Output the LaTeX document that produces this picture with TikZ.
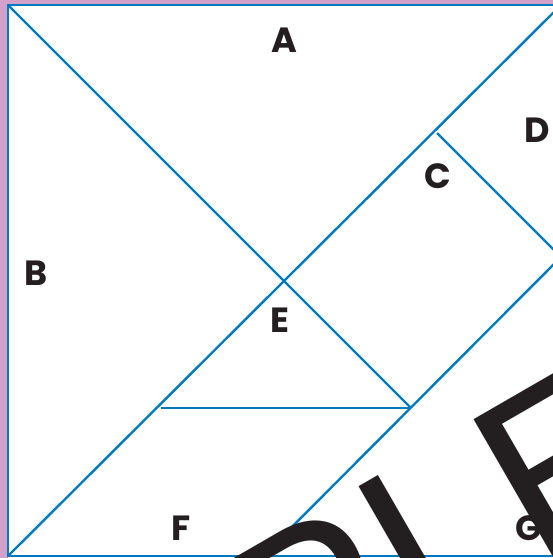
\documentclass[tikz,border=0pt]{standalone}
\usepackage{fontspec}
\setmainfont{Poppins}
\newfontfamily\markfont{Liberation Sans}
\definecolor{tanblue}{RGB}{0,122,190}
\definecolor{pagepink}{RGB}{210,160,200}
\definecolor{inkblack}{RGB}{35,31,32}

\begin{document}
\begin{tikzpicture}[x=1pt,y=-1pt,
    cut/.style={tanblue,line width=2.4pt},
    piece/.style={inkblack,inner sep=0pt,font=\bfseries\fontsize{35}{35}\selectfont}]
  \useasboundingbox (0,0) rectangle (553,558);
  \clip (0,0) rectangle (553,558);
  % page behind the square (only a strip shows at left and top)
  \fill[pagepink] (0,0) rectangle (553,558);
  \fill[white] (8,5) rectangle (561,558);
  % corners of the square and the cut points
  \coordinate (tl) at (8,5);
  \coordinate (tr) at (561,5);
  \coordinate (bl) at (8,556);
  \coordinate (br) at (561,556);
  \coordinate (p) at (437,133);   % top of square C
  \coordinate (q) at (561,257);   % right edge
  \coordinate (r) at (411,408);   % right end of E
  \coordinate (s) at (161,408);   % left end of E
  \coordinate (m) at (263,556);   % bottom edge
  % cuts
  \draw[cut] (tl) rectangle (br);
  \draw[cut] (tl) -- (r);
  \draw[cut] (bl) -- (tr);
  \draw[cut] (p) -- (q) -- (m);
  \draw[cut] (s) -- (r);
  % piece letters
  \foreach \name/\x/\y in {A/284/40, B/36/273, C/438/176, D/537/130,
                           E/280/320, F/181/528, G/529/528}
    \node[piece] (lbl\name) at (\x,\y) {\name};
  % watermark, rotated 30 degrees
  \node[anchor=base west,rotate=30,inner sep=0pt,inkblack,
        font=\markfont\fontsize{240}{240}\selectfont] (mark) at (285.5,719.6) {PLE};
\end{tikzpicture}
\end{document}
